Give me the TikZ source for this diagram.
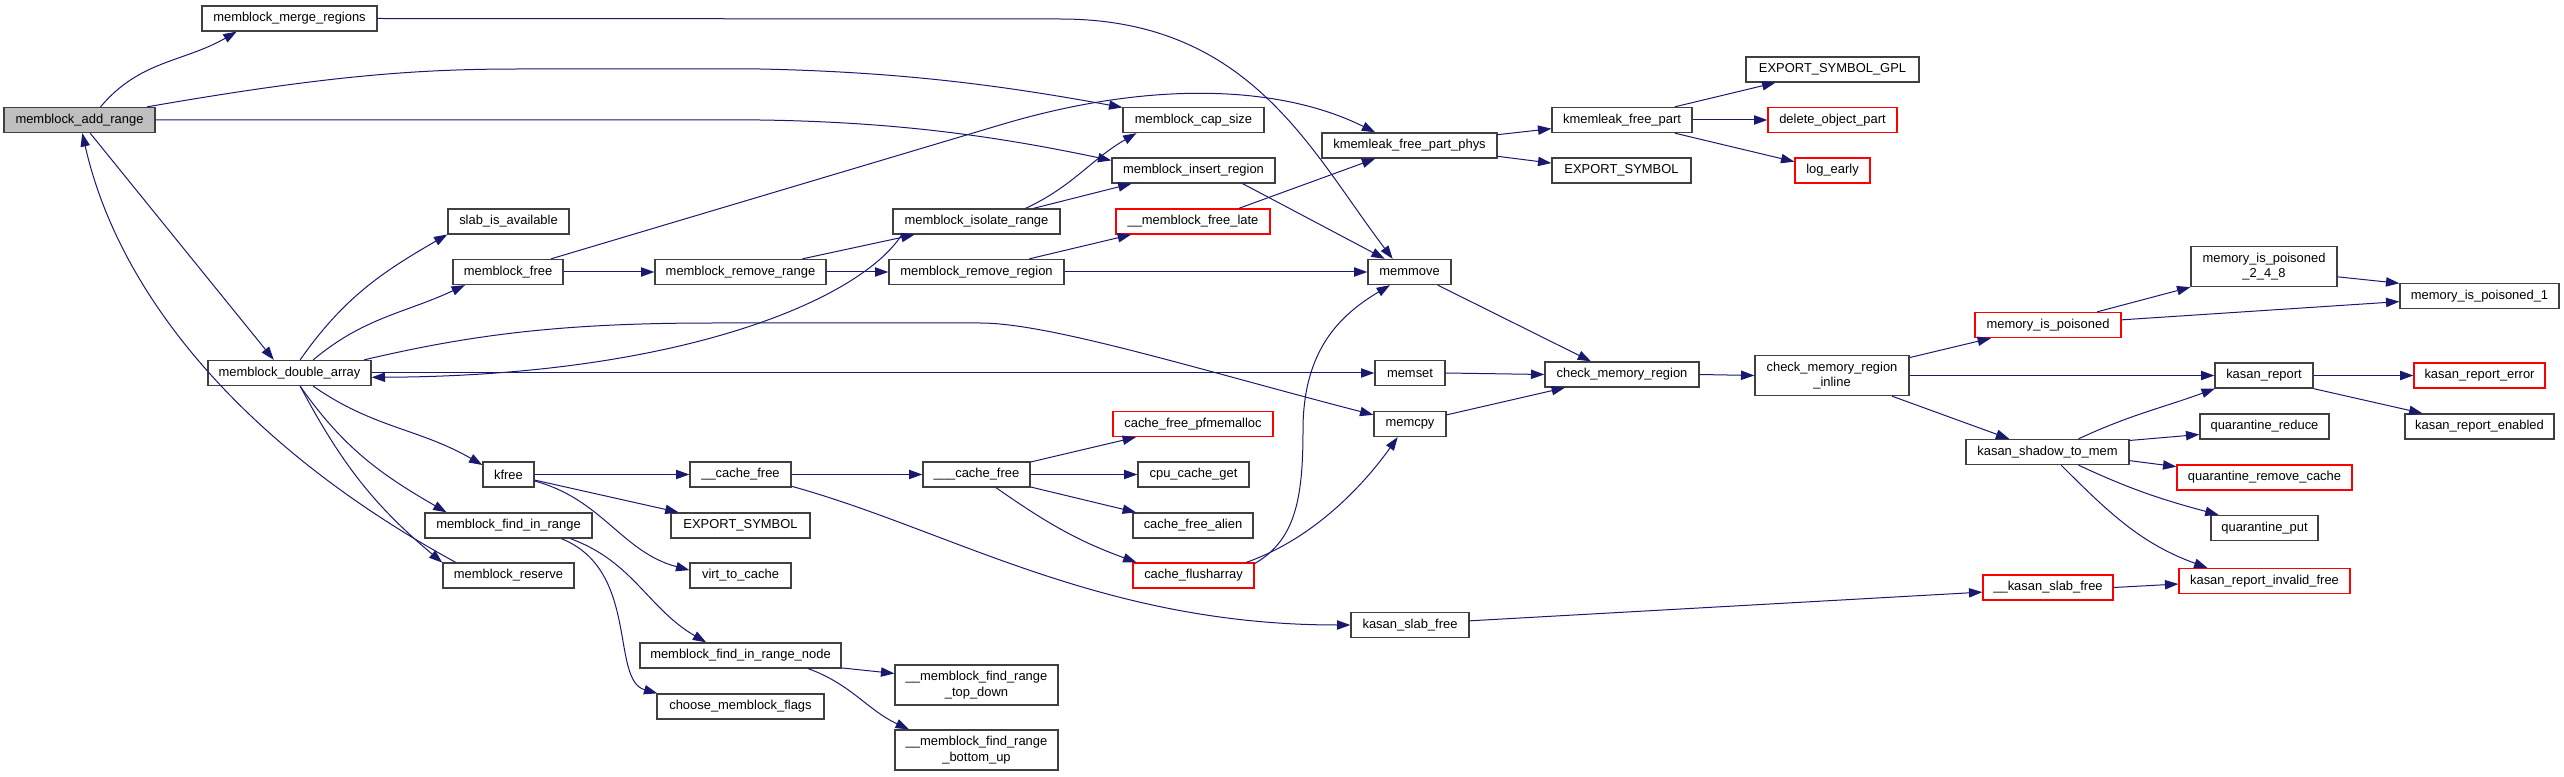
\documentclass[tikz,border=0pt]{standalone}
\usepackage{fontspec}
\setmainfont{Liberation Sans}
\usepackage{tikz}
\usetikzlibrary{arrows.meta}
\definecolor{callblue}{HTML}{191970}
\definecolor{boxgray}{HTML}{404040}
\tikzset{
  fn/.style={draw=boxgray, line width=1pt, fill=white, inner sep=1pt,
    minimum height=18.75pt, minimum width=#1*0.75pt, align=center,
    font=\fontsize{9.7}{11.5}\selectfont},
  fn2/.style={fn=#1, minimum height=30pt},
  root/.style={fill=gray!50},
  undoc/.style={draw=red},
  call/.style={draw=callblue, line width=0.75pt, -{Triangle[length=10pt,width=7pt]}}}

\begin{document}
\begin{tikzpicture}[x=0.75pt, y=-0.75pt]
\useasboundingbox (0,0) rectangle (2564,777);
\node[fn=151, root] (add) at (79.5,120) {memblock\_add\_range};
\node[fn=175] (merge) at (289.5,18.5) {memblock\_merge\_regions};
\node[fn=163] (dbl) at (289.5,373) {memblock\_double\_array};
\node[fn=121] (slab) at (508.5,221.5) {slab\_is\_available};
\node[fn=110] (mfree) at (508,272) {memblock\_free};
\node[fn=51] (kfree) at (508.5,474.5) {kfree};
\node[fn=167] (findr) at (508.5,525.5) {memblock\_find\_in\_range};
\node[fn=131] (reserve) at (508.5,575.5) {memblock\_reserve};
\node[fn=171] (rmrange) at (740.5,272) {memblock\_remove\_range};
\node[fn=101] (cfree) at (740.5,474.5) {\_\_cache\_free};
\node[fn=139] (expsym) at (740.5,525.5) {EXPORT\_SYMBOL};
\node[fn=101] (virt) at (740.5,575.5) {virt\_to\_cache};
\node[fn=201] (findnode) at (740.5,655.5) {memblock\_find\_in\_range\_node};
\node[fn=167] (choose) at (740.5,706.5) {choose\_memblock\_flags};
\node[fn=167] (isolate) at (976.5,221.5) {memblock\_isolate\_range};
\node[fn=175] (rmregion) at (976.5,272) {memblock\_remove\_region};
\node[fn=107] (ccfree) at (976.5,474.5) {\_\_\_cache\_free};
\node[fn2=163] (topdown) at (976.5,685) {\_\_memblock\_find\_range\\\_top\_down};
\node[fn2=163] (bottomup) at (976.5,750) {\_\_memblock\_find\_range\\\_bottom\_up};
\node[fn=141] (capsize) at (1193.5,120) {memblock\_cap\_size};
\node[fn=163] (insert) at (1193.5,170.5) {memblock\_insert\_region};
\node[fn=154, undoc] (freelate) at (1193,221.5) {\_\_memblock\_free\_late};
\node[fn=160, undoc] (pfmem) at (1193,424) {cache\_free\_pfmemalloc};
\node[fn=111] (cpucache) at (1193.5,474.5) {cpu\_cache\_get};
\node[fn=120] (alien) at (1193,525.5) {cache\_free\_alien};
\node[fn=121, undoc] (flush) at (1193.5,575.5) {cache\_flusharray};
\node[fn=175] (kphys) at (1409.5,145.5) {kmemleak\_free\_part\_phys};
\node[fn=83] (memmove) at (1409.5,272) {memmove};
\node[fn=70] (memset) at (1410,373) {memset};
\node[fn=72] (memcpy) at (1410,424) {memcpy};
\node[fn=118] (kslab) at (1410,625) {kasan\_slab\_free};
\node[fn=140] (kpart) at (1622,120) {kmemleak\_free\_part};
\node[fn=139] (expsymb) at (1621.5,170.5) {EXPORT\_SYMBOL};
\node[fn=154] (cmr) at (1622,374.5) {check\_memory\_region};
\node[fn=173] (expgpl) at (1832.5,69.5) {EXPORT\_SYMBOL\_GPL};
\node[fn=129, undoc] (delobj) at (1832.5,120) {delete\_object\_part};
\node[fn=75, undoc] (logearly) at (1832.5,170.5) {log\_early};
\node[fn2=154] (cmrinl) at (1832,375.5) {check\_memory\_region\\\_inline};
\node[fn=146, undoc] (poisoned) at (2048,325) {memory\_is\_poisoned};
\node[fn=163] (shadow) at (2047.5,452) {kasan\_shadow\_to\_mem};
\node[fn=130, undoc] (kslabx) at (2048,587.5) {\_\_kasan\_slab\_free};
\node[fn2=146] (poisonedx) at (2264,266.5) {memory\_is\_poisoned\\\_2\_4\_8};
\node[fn=98] (kreport) at (2264,375.5) {kasan\_report};
\node[fn=129] (qreduce) at (2264.5,426.5) {quarantine\_reduce};
\node[fn=175, undoc] (qremove) at (2264.5,477.5) {quarantine\_remove\_cache};
\node[fn=107] (qput) at (2264.5,528) {quarantine\_put};
\node[fn=171, undoc] (kinvalid) at (2264.5,581) {kasan\_report\_invalid\_free};
\node[fn=159] (poisonedone) at (2479.5,296) {memory\_is\_poisoned\_1};
\node[fn=131, undoc] (kerror) at (2479.5,375.5) {kasan\_report\_error};
\node[fn=149] (kenabled) at (2479.5,426.5) {kasan\_report\_enabled};

\draw[call] (add.32) to[out=50,in=210] (merge.194);
\draw[call] (add.11) .. controls (330,75) and (420,69) .. (520,69) -- (760,69) .. controls (900,72) and (1000,85) .. (capsize.170);
\draw[call] (add.east) -- (760,120) .. controls (900,122) and (1000,137) .. (insert.173);
\draw[call] (add.-51) -- (dbl.140);
\draw[call] (reserve.166) .. controls (250,450) and (120,300) .. (add.-78);
\draw[call] (dbl.51) to[out=55,in=210] (slab.192);
\draw[call] (dbl.29) to[out=40,in=205] (mfree.197);
\draw[call] (dbl.-29) to[out=-35,in=150] (kfree.160);
\draw[call] (dbl.-51) to[out=-55,in=150] (findr.168);
\draw[call] (dbl.-51) to[out=-62,in=140] (reserve.169);
\draw[call] (dbl.east) -- (memset.west);
\draw[call] (dbl.10) .. controls (470,335) and (560,323) .. (713,323) -- (980,323) .. controls (1050,323) and (1200,370) .. (memcpy.166);
\draw[call] (isolate.190) .. controls (860,300) and (680,376) .. (dbl.-3);
\draw[call] (mfree.17) -- (1000,125) .. controls (1150,80) and (1280,85) .. (kphys.159);
\draw[call] (mfree.east) -- (rmrange.west);
\draw[call] (rmrange.12) -- (isolate.192);
\draw[call] (rmrange.east) -- (rmregion.west);
\draw[call] (isolate.15) to[out=25,in=210] (capsize.193);
\draw[call] (isolate.13) -- (insert.192);
\draw[call] (rmregion.14) -- (freelate.192);
\draw[call] (rmregion.east) -- (memmove.west);
\draw[call] (insert.-15) -- (memmove.152);
\draw[call] (merge.east) -- (1060,19) .. controls (1250,19) and (1310,150) .. (memmove.142);
\draw[call] (freelate.16) -- (kphys.201);
\draw[call] (flush.11) .. controls (1295,540) and (1303,500) .. (1303,430) .. controls (1303,350) and (1340,315) .. (memmove.214);
\draw[call] (flush.14) .. controls (1310,540) and (1360,490) .. (memcpy.227);
\draw[call] (memmove.-25) -- (cmr.157);
\draw[call] (memset.east) -- (cmr.west);
\draw[call] (memcpy.14) -- (cmr.193);
\draw[call] (cmr.east) -- (cmrinl.west);
\draw[call] (kphys.7) -- (kpart.187);
\draw[call] (kphys.-7) -- (expsymb.174);
\draw[call] (kpart.14) -- (expgpl.193);
\draw[call] (kpart.east) -- (delobj.west);
\draw[call] (kpart.-14) -- (logearly.167);
\draw[call] (kfree.east) -- (cfree.west);
\draw[call] (kfree.-12) -- (expsym.168);
\draw[call] (kfree.-14) to[out=-15,in=165] (virt.174);
\draw[call] (cfree.east) -- (ccfree.west);
\draw[call] (cfree.-13) .. controls (950,530) and (1100,625) .. (kslab.west);
\draw[call] (ccfree.13) -- (pfmem.193);
\draw[call] (ccfree.east) -- (cpucache.west);
\draw[call] (ccfree.-13) -- (alien.167);
\draw[call] (ccfree.-34) to[out=-35,in=160] (flush.167);
\draw[call] (findr.-12) to[out=-20,in=150] (findnode.159);
\draw[call] (findr.-14) .. controls (640,570) and (610,680) .. (choose.171);
\draw[call] (findnode.-7) -- (topdown.172);
\draw[call] (findnode.-11) to[out=-20,in=155] (bottomup.163);
\draw[call] (kslab.4) -- (kslabx.184);
\draw[call] (kslabx.east) -- (kinvalid.182);
\draw[call] (cmrinl.13) -- (poisoned.193);
\draw[call] (cmrinl.east) -- (kreport.west);
\draw[call] (cmrinl.-19) -- (shadow.161);
\draw[call] (poisoned.15) -- (poisonedx.south west);
\draw[call] (poisoned.4) -- (poisonedone.184);
\draw[call] (poisonedx.-8) -- (poisonedone.171);
\draw[call] (kreport.east) -- (kerror.west);
\draw[call] (kreport.south east) -- (kenabled.167);
\draw[call] (shadow.23) to[out=25,in=200] (kreport.195);
\draw[call] (shadow.8) -- (qreduce.187);
\draw[call] (shadow.-6) -- (qremove.173);
\draw[call] (shadow.-23) to[out=-25,in=165] (qput.164);
\draw[call] (shadow.-44) to[out=-45,in=160] (kinvalid.167);
\end{tikzpicture}
\end{document}
